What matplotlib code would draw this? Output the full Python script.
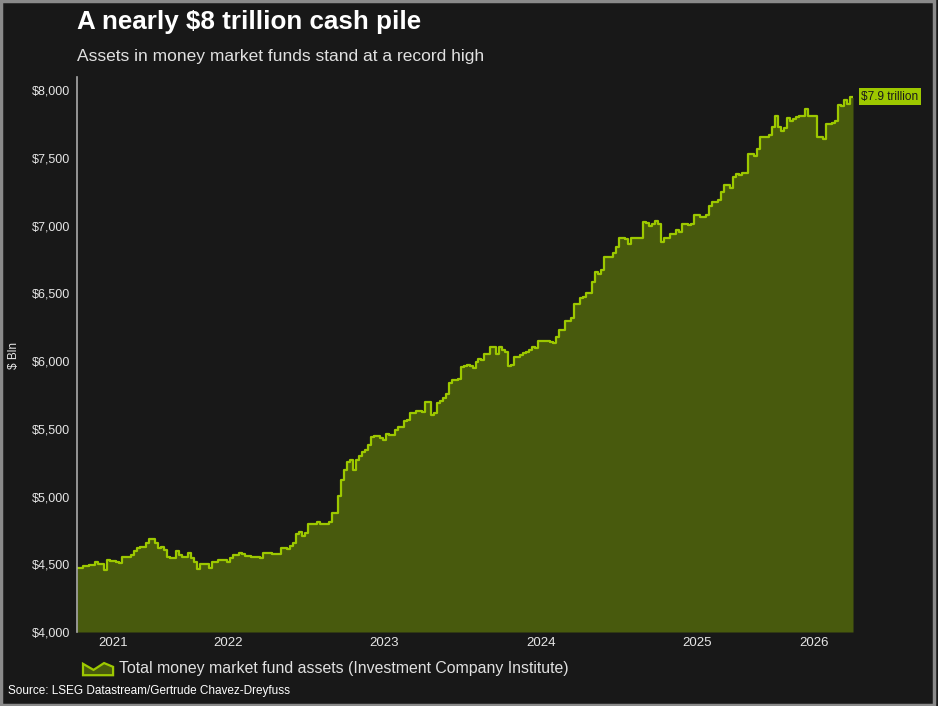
import pandas as pd
import matplotlib
matplotlib.use("Agg")
import matplotlib.pyplot as plt
from matplotlib.patches import Rectangle, Polygon
from matplotlib.legend_handler import HandlerPatch

plt.rcParams["font.family"] = ["Liberation Sans", "DejaVu Sans"]

# weekly total money market fund assets, $ bln (ICI)
start_date = "2021-07-14"
assets = [
    4470, 4470, 4485, 4485, 4495, 4495, 4515, 4505, 4500, 4455,
    4530, 4525, 4525, 4515, 4510, 4550, 4555, 4555, 4570, 4595,
    4620, 4630, 4630, 4655, 4690, 4685, 4655, 4620, 4630, 4605,
    4555, 4545, 4545, 4595, 4570, 4550, 4555, 4580, 4545, 4520,
    4465, 4500, 4500, 4505, 4475, 4520, 4520, 4535, 4535, 4530,
    4520, 4545, 4565, 4565, 4580, 4575, 4560, 4560, 4555, 4555,
    4555, 4545, 4580, 4585, 4585, 4575, 4575, 4575, 4620, 4620,
    4610, 4635, 4660, 4725, 4735, 4710, 4730, 4800, 4800, 4795,
    4815, 4800, 4800, 4800, 4815, 4880, 4880, 5005, 5120, 5195,
    5255, 5270, 5195, 5270, 5300, 5325, 5345, 5380, 5440, 5445,
    5445, 5430, 5415, 5460, 5455, 5455, 5490, 5515, 5515, 5560,
    5565, 5615, 5615, 5630, 5630, 5625, 5700, 5700, 5600, 5620,
    5690, 5705, 5725, 5755, 5835, 5860, 5860, 5870, 5955, 5960,
    5970, 5960, 5950, 5995, 6015, 6010, 6050, 6050, 6100, 6100,
    6050, 6105, 6080, 6070, 5965, 5970, 6030, 6030, 6045, 6060,
    6070, 6080, 6105, 6095, 6150, 6150, 6145, 6150, 6140, 6130,
    6180, 6230, 6230, 6295, 6295, 6320, 6420, 6420, 6465, 6475,
    6505, 6505, 6585, 6660, 6645, 6670, 6765, 6765, 6765, 6795,
    6840, 6910, 6905, 6900, 6865, 6910, 6910, 6910, 6905, 7025,
    7020, 7000, 7010, 7030, 7010, 6875, 6905, 6905, 6940, 6940,
    6965, 6955, 7010, 7010, 7005, 7010, 7075, 7075, 7060, 7060,
    7075, 7145, 7175, 7175, 7190, 7250, 7300, 7300, 7280, 7360,
    7380, 7370, 7390, 7390, 7525, 7525, 7515, 7565, 7650, 7650,
    7655, 7670, 7730, 7805, 7730, 7700, 7720, 7795, 7770, 7785,
    7800, 7810, 7810, 7860, 7805, 7810, 7810, 7650, 7650, 7640,
    7750, 7750, 7755, 7770, 7890, 7885, 7925, 7900, 7945, 7950,
]
dates = pd.date_range(start_date, periods=len(assets), freq="W-WED")
years = [2021, 2022, 2023, 2024, 2025, 2026]
y_ticks = [4000, 4500, 5000, 5500, 6000, 6500, 7000, 7500, 8000]

bg = "#181818"
line_c = "#9dc800"
fill_c = "#485a0d"


def area_icon(legend, orig_handle, xdescent, ydescent, width, height, fontsize):
    # little mountain-shaped area swatch like the original legend
    x0, y0 = -xdescent, -ydescent
    pts = [(x0, y0), (x0, y0 + 0.75 * height), (x0 + 0.35 * width, y0 + 0.35 * height),
           (x0 + 0.7 * width, y0 + 0.8 * height), (x0 + width, y0 + 0.55 * height),
           (x0 + width, y0)]
    return Polygon(pts, closed=True)


fig = plt.figure(figsize=(9.38, 7.06), dpi=100, facecolor=bg)
ax = fig.add_axes([0.0821, 0.1048, 0.8273, 0.7861], facecolor=bg)

ax.fill_between(dates, assets, 4000, step="post", color=fill_c, lw=0)
ax.plot(dates, assets, drawstyle="steps-post", color=line_c, lw=1.6)
icon = Polygon([[0, 0]], fc=fill_c, ec=line_c, lw=1.6)

ax.set_xlim(dates[0], dates[-1])
ax.set_ylim(4000, 8096)
ax.set_yticks(y_ticks)
ax.set_yticklabels([f"${v:,}" for v in y_ticks])
ax.tick_params(axis="y", length=0, pad=5, labelsize=9, labelcolor="#e6e6e6")
ax.set_xticks([])
for s in ["top", "right", "bottom"]:
    ax.spines[s].set_visible(False)
ax.spines["left"].set_color("#aaaaaa")
ax.spines["left"].set_linewidth(1.2)

# year labels centred on the visible part of each year
x0, x1 = dates[0], dates[-1]
for yr in years:
    a = max(pd.Timestamp(f"{yr}-01-01"), x0)
    b = min(pd.Timestamp(f"{yr + 1}-01-01"), x1)
    mid = a + (b - a) / 2
    ax.text(mid, -0.02, str(yr), transform=ax.get_xaxis_transform(),
            ha="center", va="center", fontsize=9.5, color="#e6e6e6")

fig.text(14 / 938, 1 - 355 / 706, "$ Bln", rotation=90, color="#e6e6e6",
         fontsize=8.5, ha="center", va="center")

ax.annotate("$7.9 trillion", xy=(dates[-1], assets[-1]), xytext=(6, 0),
            textcoords="offset points", ha="left", va="center",
            fontsize=8.5, color="#1a1a1a",
            bbox=dict(boxstyle="square,pad=0.2", fc=line_c, ec="none"),
            annotation_clip=False)

fig.text(77 / 938, 1 - 22 / 706, "A nearly $8 trillion cash pile", fontsize=18.7,
         fontweight="bold", color="white", ha="left", va="center")
fig.text(77 / 938, 1 - 57 / 706, "Assets in money market funds stand at a record high",
         fontsize=12.5, color="#e0e0e0", ha="left", va="center")

leg = fig.legend([icon], ["Total money market fund assets (Investment Company Institute)"],
                 loc="center left", bbox_to_anchor=(83 / 938, 1 - 668 / 706),
                 frameon=False, fontsize=11.4, handlelength=1.9, handleheight=1.1,
                 handletextpad=0.4, borderaxespad=0, borderpad=0,
                 handler_map={Polygon: HandlerPatch(patch_func=area_icon)})
for t in leg.get_texts():
    t.set_color("#e0e0e0")

fig.text(8 / 938, 1 - 691 / 706, "Source: LSEG Datastream/Gertrude Chavez-Dreyfuss",
         fontsize=8.5, color="white", ha="left", va="center")

fig.patches.append(Rectangle((0.001, 0.001), 0.995, 0.997, transform=fig.transFigure,
                             fill=False, ec="#8a8a8a", lw=2.5))

fig.savefig("out.png", dpi=100, facecolor=bg)
